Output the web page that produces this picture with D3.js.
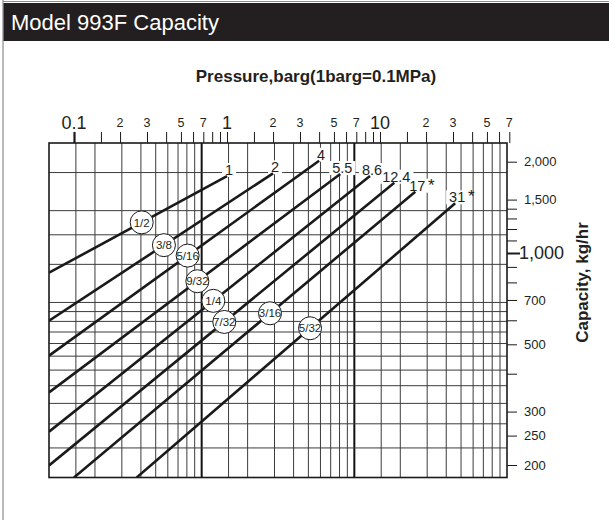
<!DOCTYPE html>
<html><head><meta charset="utf-8">
<script src="https://cdn.jsdelivr.net/npm/d3@7"></script>
<style>
html,body{margin:0;padding:0;background:#fff;}
svg{display:block;}
</style></head><body>
<svg id="chart" width="609" height="520"></svg>
<script>
// ---------- data ----------
const chartTitle = "Model 993F Capacity";
const xTitle = "Pressure,barg(1barg=0.1MPa)";
const yTitle = "Capacity, kg/hr";

const topTickValues = [0.1,0.15,0.2,0.3,0.4,0.5,0.6,0.7,0.8,0.9,1,1.5,2,3,4,5,6,7,8,9,10,15,20,30,40,50,60,70];
const topLabelValues = [0.1,0.2,0.3,0.5,0.7,1,2,3,5,7,10,20,30,50,70];
const topLabelTexts  = ["0.1","2","3","5","7","1","2","3","5","7","10","2","3","5","7"];
const topMajorLabels = ["0.1","1","10"];

const rightTickValues  = [200,250,300,400,500,600,700,800,900,1000,1100,1200,1300,1400,1500,2000];
const rightLabelValues = [200,250,300,500,700,1000,1500,2000];
const rightMajorValue  = 1000;

const gridXValues = [0.15,0.2,0.3,0.4,0.5,0.6,0.7,0.8,0.9,1,1.5,2,3,4,5,6,7,8,9,10,15,20,30,40,50,60,70,80,90];
const gridXHeavy  = [1,10];
const gridYValues = [250,300,350,400,450,500,550,600,650,700,750,1000,1250,1500,2000];

const orificeSizes   = ["1/2","3/8","5/16","9/32","1/4","7/32","3/16","5/32"];
const maxPressure    = [1,2,4,5.5,8.6,12.4,17,31];
const maxLabels      = ["1","2","4","5.5","8.6","12.4","17","31"];
const starred        = [false,false,false,false,false,false,true,true];
const capacityAtMax  = [1794,1831,2015,1821,1794,1705,1593,1458];
const startPressure  = [0.0687,0.0687,0.0687,0.0687,0.0687,0.0687,0.1,0.257];
const startCapacity  = [861,598,459,347,257.5,199.3,182,182];
const circlePressure = [0.277,0.387,0.553,0.64,0.814,0.96,1.91,3.49];

// ---------- layout ----------
const W = 609, H = 520;
const plot = {left:49, right:507, top:143, bottom:477.5};
const NARROW = '"Liberation Sans Narrow","Arial Narrow","Liberation Sans",Arial,sans-serif';
const SANS = '"Liberation Sans",Arial,Helvetica,sans-serif';

const svg = d3.select("#chart");

// data scales (axis scales)
const x = d3.scaleLog().domain([0.1, 10]).range([74, 380]);
const y = d3.scaleLog().domain([200, 2000]).range([465, 161.7]);
// grid scales (the printed grid is offset from the axes in the original)
const gx = d3.scaleLog().domain([0.1, 100]).range([plot.left, plot.right]);
const gy = d3.scaleLog().domain([200, 2500]).range([plot.bottom, plot.top]);

// outer border + title bar
svg.append("line").attr("x1",3).attr("x2",3).attr("y1",0).attr("y2",H)
  .attr("stroke","#8a8a8a").attr("stroke-width",1.2);
svg.append("line").attr("x1",3).attr("x2",W).attr("y1",1.5).attr("y2",1.5)
  .attr("stroke","#8a8a8a").attr("stroke-width",1.2);
svg.append("rect").attr("x",3.5).attr("y",3).attr("width",W-3.5).attr("height",38)
  .attr("fill","#231f20");
svg.append("text").attr("x",11).attr("y",30)
  .attr("fill","#fff").attr("font-family",SANS).attr("font-size",22)
  .text(chartTitle);

// subtitle
svg.append("text").attr("x",316).attr("y",82)
  .attr("text-anchor","middle").attr("font-family",SANS).attr("font-weight","bold")
  .attr("font-size",17).attr("fill","#231f20").text(xTitle);

// grid
const grid = svg.append("g");
grid.selectAll("line.gx").data(gridXValues).join("line")
  .attr("x1",d=>gx(d)).attr("x2",d=>gx(d))
  .attr("y1",plot.top).attr("y2",plot.bottom)
  .attr("stroke",d=>gridXHeavy.includes(d)?"#111":"#3c3c3c")
  .attr("stroke-width",d=>gridXHeavy.includes(d)?2:1);
grid.selectAll("line.gy").data(gridYValues).join("line")
  .attr("x1",plot.left).attr("x2",plot.right)
  .attr("y1",d=>gy(d)).attr("y2",d=>gy(d))
  .attr("stroke","#3c3c3c").attr("stroke-width",1);
svg.append("rect").attr("x",plot.left).attr("y",plot.top)
  .attr("width",plot.right-plot.left).attr("height",plot.bottom-plot.top)
  .attr("fill","none").attr("stroke","#1a1a1a").attr("stroke-width",1.6);

// top axis
const topAxis = svg.append("g").attr("transform",`translate(0,${plot.top})`)
  .call(d3.axisTop(x).tickValues(topTickValues).tickSize(11).tickFormat(""));
topAxis.select(".domain").remove();
topAxis.selectAll(".tick line").attr("stroke","#1a1a1a")
  .attr("stroke-width",d=>d===0.1?2.2:1);
svg.append("g").selectAll("text").data(topLabelValues).join("text")
  .attr("x",d=>x(d)).attr("y",(d,i)=>topMajorLabels.includes(topLabelTexts[i])?129:127)
  .attr("text-anchor","middle")
  .attr("font-family",(d,i)=>topMajorLabels.includes(topLabelTexts[i])?SANS:NARROW)
  .attr("font-size",(d,i)=>topMajorLabels.includes(topLabelTexts[i])?18:12.5)
  .attr("fill","#231f20")
  .text((d,i)=>topLabelTexts[i]);

// right axis
const fmt = d3.format(",");
const rightAxis = svg.append("g").attr("transform",`translate(${plot.right},0)`)
  .call(d3.axisRight(y).tickValues(rightTickValues)
        .tickSize(10).tickFormat(""));
rightAxis.select(".domain").remove();
rightAxis.selectAll(".tick line").attr("stroke","#1a1a1a")
  .attr("x2",d=>d===rightMajorValue?13:10)
  .attr("stroke-width",d=>d===rightMajorValue?2:1);
svg.append("g").selectAll("text").data(rightLabelValues).join("text")
  .attr("x",d=>d===rightMajorValue?plot.right+12:plot.right+17)
  .attr("y",d=>y(d)).attr("dy","0.36em")
  .attr("font-family",d=>d===rightMajorValue?SANS:NARROW)
  .attr("font-size",d=>d===rightMajorValue?18:13)
  .attr("fill","#231f20")
  .text(d=>fmt(d));

// y title
svg.append("text")
  .attr("transform",`translate(588,${(213+352)/2}) rotate(-90)`)
  .attr("text-anchor","middle").attr("font-family",SANS).attr("font-weight","bold")
  .attr("font-size",17).attr("fill","#231f20").text(yTitle);

// series
const series = orificeSizes.map((s,i)=>({
  size:s, label:maxLabels[i], star:starred[i],
  p0:startPressure[i], c0:startCapacity[i],
  p1:maxPressure[i], c1:capacityAtMax[i], pc:circlePressure[i]
}));
series.forEach(d=>{
  const t = (Math.log(d.pc)-Math.log(d.p0))/(Math.log(d.p1)-Math.log(d.p0));
  d.cc = Math.exp(Math.log(d.c0)+t*(Math.log(d.c1)-Math.log(d.c0)));
});

svg.append("clipPath").attr("id","clip").append("rect")
  .attr("x",plot.left).attr("y",plot.top)
  .attr("width",plot.right-plot.left).attr("height",plot.bottom-plot.top);

// knockout layer (white boxes behind end labels, above the grid)
const ko = svg.append("g");

const line = d3.line().x(d=>x(d[0])).y(d=>y(d[1]));
svg.append("g").attr("clip-path","url(#clip)")
  .selectAll("path").data(series).join("path")
  .attr("d",d=>line([[d.p0,d.c0],[d.p1,d.c1]]))
  .attr("fill","none").attr("stroke","#1a1a1a").attr("stroke-width",2.6);

// end labels
const labG = svg.append("g");
const labText = labG.selectAll("text.lab").data(series).join("text")
  .attr("class","lab")
  .attr("x",d=>x(d.p1)+2).attr("y",d=>y(d.c1)-1)
  .attr("text-anchor","middle").attr("font-family",NARROW).attr("font-size",14.5)
  .attr("fill","#231f20").text(d=>d.label);
labText.each(function(){
  const bb = this.getBBox();
  ko.append("rect").attr("x",bb.x-3).attr("y",bb.y+1)
    .attr("width",bb.width+6).attr("height",bb.height-2).attr("fill","#fff");
});
labG.selectAll("text.star").data(series.filter(d=>d.star)).join("text")
  .attr("class","star")
  .attr("x",function(d){
    const i = series.indexOf(d);
    const bb = labText.nodes()[i].getBBox();
    return bb.x + bb.width + 6;
  })
  .attr("y",d=>y(d.c1)-1)
  .attr("text-anchor","middle").attr("font-family",SANS).attr("font-size",17)
  .attr("fill","#231f20").text("*");

// orifice circles
const circ = svg.append("g").selectAll("g").data(series).join("g")
  .attr("transform",d=>`translate(${x(d.pc)},${y(d.cc)})`);
circ.append("circle").attr("r",11.5).attr("fill","#fff")
  .attr("stroke","#1a1a1a").attr("stroke-width",1);
circ.append("text").attr("text-anchor","middle").attr("dy","0.36em")
  .attr("font-family",NARROW).attr("font-size",11.5).attr("fill","#231f20")
  .text(d=>d.size);
</script>
</body></html>
